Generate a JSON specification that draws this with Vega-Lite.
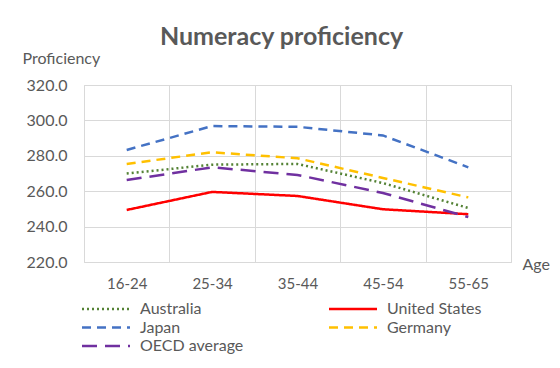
{
  "$schema": "https://vega.github.io/schema/vega-lite/v6.json",
  "width": 427,
  "height": 177,
  "autosize": {"type": "none"},
  "padding": {"left": 84, "top": 85, "right": 49, "bottom": 106},
  "background": "white",
  "title": {
    "text": "Numeracy proficiency",
    "font": "Lato",
    "fontSize": 25,
    "fontWeight": "bold",
    "color": "#595959",
    "anchor": "middle",
    "frame": "group",
    "dx": -16,
    "offset": 0
  },
  "config": {
    "view": {"stroke": "#d9d9d9", "strokeWidth": 1},
    "font": "Lato"
  },
  "data": {
    "values": [
      {"age": "16-24", "country": "Australia", "value": 270.0},
      {"age": "25-34", "country": "Australia", "value": 275.0},
      {"age": "35-44", "country": "Australia", "value": 275.4},
      {"age": "45-54", "country": "Australia", "value": 264.6},
      {"age": "55-65", "country": "Australia", "value": 250.5},
      {"age": "16-24", "country": "United States", "value": 249.4},
      {"age": "25-34", "country": "United States", "value": 259.6},
      {"age": "35-44", "country": "United States", "value": 257.3},
      {"age": "45-54", "country": "United States", "value": 249.8},
      {"age": "55-65", "country": "United States", "value": 247.0},
      {"age": "16-24", "country": "Japan", "value": 283.3},
      {"age": "25-34", "country": "Japan", "value": 296.8},
      {"age": "35-44", "country": "Japan", "value": 296.4},
      {"age": "45-54", "country": "Japan", "value": 291.5},
      {"age": "55-65", "country": "Japan", "value": 273.5},
      {"age": "16-24", "country": "Germany", "value": 275.4},
      {"age": "25-34", "country": "Germany", "value": 282.0},
      {"age": "35-44", "country": "Germany", "value": 278.6},
      {"age": "45-54", "country": "Germany", "value": 267.5},
      {"age": "55-65", "country": "Germany", "value": 256.5},
      {"age": "16-24", "country": "OECD average", "value": 266.3},
      {"age": "25-34", "country": "OECD average", "value": 273.5},
      {"age": "35-44", "country": "OECD average", "value": 269.2},
      {"age": "45-54", "country": "OECD average", "value": 259.0},
      {"age": "55-65", "country": "OECD average", "value": 245.4}
    ]
  },
  "mark": {"type": "line", "strokeWidth": 2.5},
  "encoding": {
    "x": {
      "field": "age",
      "type": "ordinal",
      "scale": {"type": "band", "paddingInner": 0, "paddingOuter": 0},
      "axis": {
        "title": "Age",
        "titleFont": "Lato",
        "titleFontSize": 16,
        "titleFontWeight": "normal",
        "titleColor": "#595959",
        "titleAlign": "left",
        "titleX": 438,
        "titleY": 2,
        "titleBaseline": "middle",
        "labelAngle": 0,
        "labelFontSize": 15,
        "labelColor": "#595959",
        "labelPadding": 14,
        "tickBand": "extent",
        "ticks": false,
        "domain": false,
        "grid": true,
        "gridColor": "#d9d9d9",
        "gridWidth": 1
      }
    },
    "y": {
      "field": "value",
      "type": "quantitative",
      "scale": {"domain": [220, 320], "zero": false, "nice": false},
      "axis": {
        "title": "Proficiency",
        "titleFont": "Lato",
        "titleFontSize": 16,
        "titleFontWeight": "normal",
        "titleColor": "#595959",
        "titleAngle": 0,
        "titleAlign": "left",
        "titleBaseline": "middle",
        "titleX": -62,
        "titleY": -27,
        "values": [220, 240, 260, 280, 300, 320],
        "format": ".1f",
        "labelFontSize": 16,
        "labelColor": "#595959",
        "labelPadding": 17,
        "ticks": false,
        "domain": false,
        "grid": true,
        "gridColor": "#d9d9d9",
        "gridWidth": 1
      }
    },
    "color": {
      "field": "country",
      "type": "nominal",
      "scale": {
        "domain": ["Australia", "United States", "Japan", "Germany", "OECD average"],
        "range": ["#548235", "#FF0000", "#4472C4", "#FFC000", "#7030A0"]
      },
      "legend": {
        "title": null,
        "orient": "none",
        "legendX": 14,
        "legendY": 216,
        "direction": "horizontal",
        "columns": 2,
        "columnPadding": 80,
        "rowPadding": 2.5,
        "symbolType": "M-4,0H4",
        "symbolSize": 144,
        "symbolStrokeWidth": 2.5,
        "labelFont": "Lato",
        "labelFontSize": 16,
        "labelColor": "#595959",
        "labelOffset": 26,
        "labelLimit": 200
      }
    },
    "strokeDash": {
      "field": "country",
      "type": "nominal",
      "scale": {
        "domain": ["Australia", "United States", "Japan", "Germany", "OECD average"],
        "range": [[2, 3], [1, 0], [9, 6], [9, 6], [15, 8]]
      }
    }
  }
}
